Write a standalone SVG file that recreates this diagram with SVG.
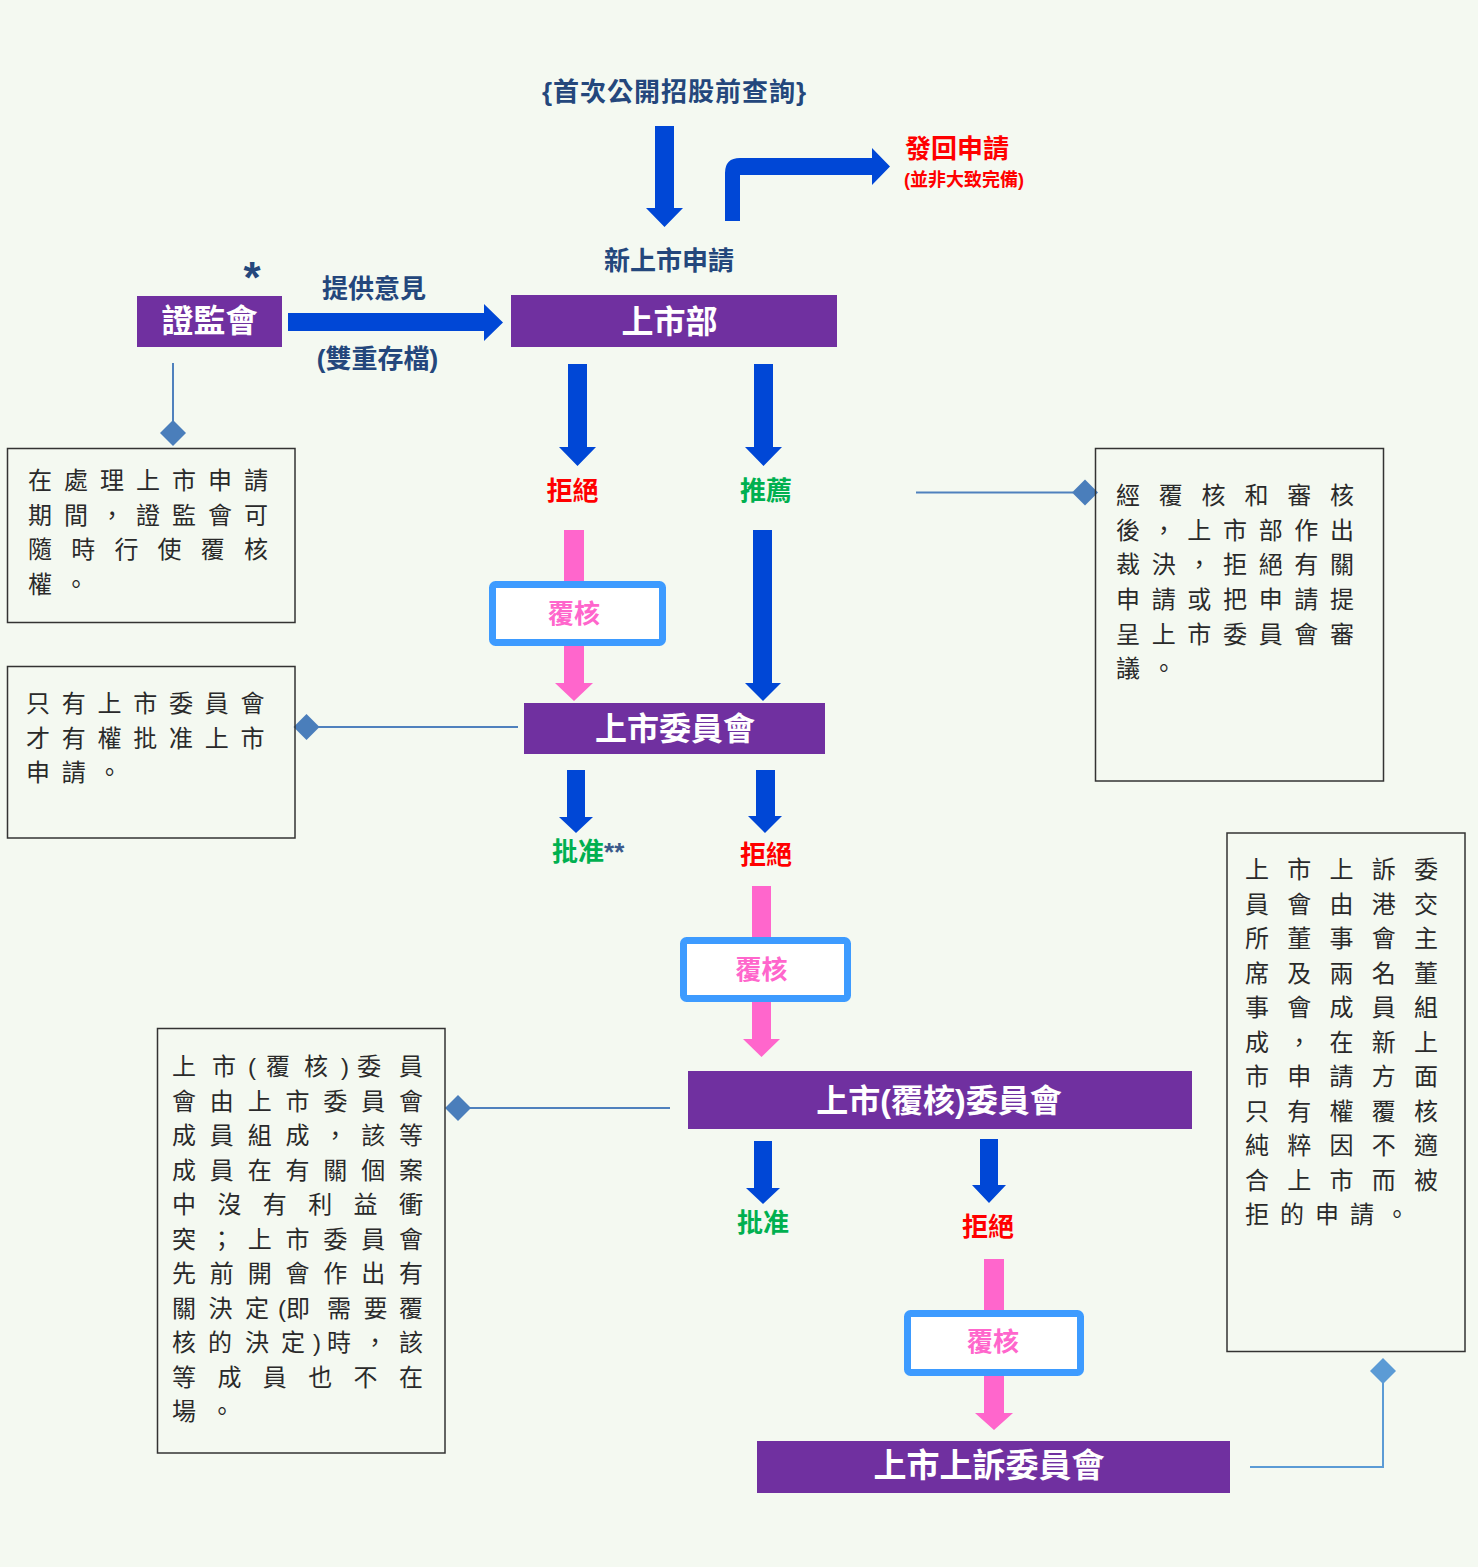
<svg xmlns="http://www.w3.org/2000/svg" width="1478" height="1567" viewBox="0 0 1478 1567">
<style>
.hd{font-family:"Liberation Sans","Noto Sans CJK TC",sans-serif;font-weight:700;font-size:26px;fill:#24477c}
.ntx{font-family:"Liberation Sans","Noto Sans CJK TC",sans-serif;font-weight:700;font-size:32px;fill:#ffffff;text-anchor:middle}
.pb{fill:#7030a0}
.red{fill:#ff0000}
.grn{fill:#00b050}
.pnk{fill:#ff66cc}
.mid{text-anchor:middle}
.ar{fill:#0047d6}
.par{fill:#ff66cc}
.rv{fill:#ffffff;stroke:#3d9bff;stroke-width:7}
.nb{fill:none;stroke:#333333;stroke-width:1.5}
.nt{font-family:"Liberation Sans","Noto Sans CJK TC",sans-serif;font-size:24px;fill:#2a2a2a}
.cl{fill:none;stroke:#4f81bd;stroke-width:2}
.cl2{fill:none;stroke:#5b9bd5;stroke-width:2}
.dm{fill:#4a7ebb}
.dm2{fill:#5b9bd5}
</style>
<rect x="0" y="0" width="1478" height="1567" fill="#f4f9f1"/>

<g id="connectors">
  <polygon class="ar" points="655,126 674,126 674,208 683,208 664.5,227 646,208 655,208"/>
  <path class="ar" d="M725,221 L725,173 Q725,158 740,158 L872,158 L872,148 L890,166.5 L872,185 L872,175 L740,175 L740,221 Z"/>
  <polygon class="ar" points="288,313 484,313 484,304 503,322.5 484,341 484,331 288,331"/>
  <polygon class="ar" points="568,364 587,364 587,447 596,447 577.5,466 559,447 568,447"/>
  <polygon class="ar" points="754,364 773,364 773,447 782,447 763.5,466 745,447 754,447"/>
  <polygon class="par" points="564,530 584,530 584,683 593,683 574,701 555,683 564,683"/>
  <polygon class="ar" points="753,530 772,530 772,683 781,683 763,701 745,683 753,683"/>
  <polygon class="ar" points="567,770 585,770 585,817 593,817 576,833 559,817 567,817"/>
  <polygon class="ar" points="756,770 775,770 775,816 782,816 765,833 748,816 756,816"/>
  <polygon class="par" points="752,886 771,886 771,1039 780,1039 761.5,1057 743,1039 752,1039"/>
  <polygon class="ar" points="754,1141 772,1141 772,1188 780,1188 763,1204 746,1188 754,1188"/>
  <polygon class="ar" points="980,1139 998,1139 998,1185 1006,1185 989,1203 972,1185 980,1185"/>
  <polygon class="par" points="984,1259 1004,1259 1004,1413 1013,1413 994,1430 975,1413 984,1413"/>
  <path class="cl" d="M173,363 V425"/>
  <polygon class="dm" points="173,420 186,433 173,446 160,433"/>
  <path class="cl" d="M518,727 H318"/>
  <polygon class="dm" points="306.5,714 319.5,727 306.5,740 293.5,727"/>
  <path class="cl" d="M916,492.5 H1073"/>
  <polygon class="dm" points="1085,479.5 1098,492.5 1085,505.5 1072,492.5"/>
  <path class="cl" d="M670,1108 H470"/>
  <polygon class="dm" points="458,1095 471,1108 458,1121 445,1108"/>
  <path class="cl2" d="M1250,1467 H1383 V1383"/>
  <polygon class="dm2" points="1383,1358 1396,1371 1383,1384 1370,1371"/>
</g>

<g id="labels">
  <text class="hd" x="542" y="101" letter-spacing="1">{首次公開招股前查詢}</text>
  <text class="hd mid" x="669" y="270">新上市申請</text>
  <text class="hd red" x="905" y="158">發回申請</text>
  <text class="hd red" x="904" y="186" style="font-size:18px">(並非大致完備)</text>
  <text class="hd mid" x="252" y="293" style="font-size:44px">*</text>
  <text class="hd mid" x="374" y="298">提供意見</text>
  <text class="hd mid" x="377.5" y="368">(雙重存檔)</text>
  <text class="hd red mid" x="572.5" y="500">拒絕</text>
  <text class="hd grn mid" x="766" y="500">推薦</text>
  <text class="hd grn" x="552" y="861">批准<tspan style="fill:#3b5a8a;font-size:26px">**</tspan></text>
  <text class="hd red mid" x="766" y="864">拒絕</text>
  <text class="hd grn mid" x="763" y="1232">批准</text>
  <text class="hd red mid" x="988" y="1236">拒絕</text>
</g>

<g id="node-sfc">
  <rect class="pb" x="137" y="296" width="145" height="51"/>
  <text class="ntx" x="209.5" y="332">證監會</text>
</g>
<g id="node-listing-dept">
  <rect class="pb" x="511" y="295" width="326" height="52"/>
  <text class="ntx" x="669.5" y="333">上市部</text>
</g>
<g id="node-review-1">
  <rect class="rv" x="492.5" y="584.5" width="170" height="58" rx="3"/>
  <text class="hd pnk mid" x="574" y="623">覆核</text>
</g>
<g id="node-listing-committee">
  <rect class="pb" x="524" y="703" width="301" height="51"/>
  <text class="ntx" x="675" y="740">上市委員會</text>
</g>
<g id="node-review-2">
  <rect class="rv" x="683.5" y="940.5" width="164" height="58" rx="3"/>
  <text class="hd pnk mid" x="761.5" y="979">覆核</text>
</g>
<g id="node-review-committee">
  <rect class="pb" x="688" y="1071" width="504" height="58"/>
  <text class="ntx" x="939" y="1112">上市(覆核)委員會</text>
</g>
<g id="node-review-3">
  <rect class="rv" x="907.5" y="1313.5" width="173" height="59" rx="3"/>
  <text class="hd pnk mid" x="993" y="1351">覆核</text>
</g>
<g id="node-appeals-committee">
  <rect class="pb" x="757" y="1441" width="473" height="52"/>
  <text class="ntx" x="989" y="1477" style="font-size:33px">上市上訴委員會</text>
</g>

<g id="note-sfc">
  <rect class="nb" x="7.5" y="448.5" width="287.5" height="174"/>
  <text class="nt" x="28 64 100 136 172 208 244" y="489">在處理上市申請</text>
  <text class="nt" x="28 64 100 136 172 208 244" y="524">期間，證監會可</text>
  <text class="nt" x="28 71.2 114.4 157.6 200.8 244" y="558">隨時行使覆核</text>
  <text class="nt" x="28 64" y="593">權。</text>
</g>
<g id="note-committee">
  <rect class="nb" x="7.5" y="666.5" width="287.5" height="171.5"/>
  <text class="nt" x="26 61.75 97.5 133.25 169 204.75 240.5" y="712">只有上市委員會</text>
  <text class="nt" x="26 61.75 97.5 133.25 169 204.75 240.5" y="747">才有權批准上市</text>
  <text class="nt" x="26 61.75 97.5" y="781">申請。</text>
</g>
<g id="note-dept">
  <rect class="nb" x="1095.5" y="448.5" width="288" height="332.5"/>
  <text class="nt" x="1116 1158.8 1201.6 1244.4 1287.2 1330" y="504">經覆核和審核</text>
  <text class="nt" x="1116 1151.67 1187.33 1223 1258.67 1294.33 1330" y="539">後，上市部作出</text>
  <text class="nt" x="1116 1151.67 1187.33 1223 1258.67 1294.33 1330" y="573">裁決，拒絕有關</text>
  <text class="nt" x="1116 1151.67 1187.33 1223 1258.67 1294.33 1330" y="608">申請或把申請提</text>
  <text class="nt" x="1116 1151.67 1187.33 1223 1258.67 1294.33 1330" y="643">呈上市委員會審</text>
  <text class="nt" x="1116 1151.67" y="677">議。</text>
</g>
<g id="note-review-committee">
  <rect class="nb" x="157.5" y="1028.5" width="287.5" height="424.5"/>
  <text class="nt" x="172 212 248 266 304 341 357 399" y="1075">上市(覆核)委員</text>
  <text class="nt" x="172 209.8 247.7 285.5 323.3 361.2 399" y="1109.5">會由上市委員會</text>
  <text class="nt" x="172 209.8 247.7 285.5 323.3 361.2 399" y="1144">成員組成，該等</text>
  <text class="nt" x="172 209.8 247.7 285.5 323.3 361.2 399" y="1178.5">成員在有關個案</text>
  <text class="nt" x="172 217.4 262.8 308.2 353.6 399" y="1213">中沒有利益衝</text>
  <text class="nt" x="172 209.8 247.7 285.5 323.3 361.2 399" y="1247.5">突；上市委員會</text>
  <text class="nt" x="172 209.8 247.7 285.5 323.3 361.2 399" y="1282">先前開會作出有</text>
  <text class="nt" x="172 208.5 245 278 286 327 363.5 399" y="1316.5">關決定(即需要覆</text>
  <text class="nt" x="172 208 245 281 313 327 363 399" y="1351">核的決定)時，該</text>
  <text class="nt" x="172 217.4 262.8 308.2 353.6 399" y="1385.5">等成員也不在</text>
  <text class="nt" x="172 210" y="1420">場。</text>
</g>
<g id="note-appeals">
  <rect class="nb" x="1227" y="833" width="238" height="518.5"/>
  <text class="nt" x="1245 1287.25 1329.5 1371.75 1414" y="878">上市上訴委</text>
  <text class="nt" x="1245 1287.25 1329.5 1371.75 1414" y="912.5">員會由港交</text>
  <text class="nt" x="1245 1287.25 1329.5 1371.75 1414" y="947">所董事會主</text>
  <text class="nt" x="1245 1287.25 1329.5 1371.75 1414" y="981.5">席及兩名董</text>
  <text class="nt" x="1245 1287.25 1329.5 1371.75 1414" y="1016">事會成員組</text>
  <text class="nt" x="1245 1287.25 1329.5 1371.75 1414" y="1050.5">成，在新上</text>
  <text class="nt" x="1245 1287.25 1329.5 1371.75 1414" y="1085">市申請方面</text>
  <text class="nt" x="1245 1287.25 1329.5 1371.75 1414" y="1119.5">只有權覆核</text>
  <text class="nt" x="1245 1287.25 1329.5 1371.75 1414" y="1154">純粹因不適</text>
  <text class="nt" x="1245 1287.25 1329.5 1371.75 1414" y="1188.5">合上市而被</text>
  <text class="nt" x="1245 1280 1315 1350 1385" y="1223">拒的申請。</text>
</g>
</svg>
